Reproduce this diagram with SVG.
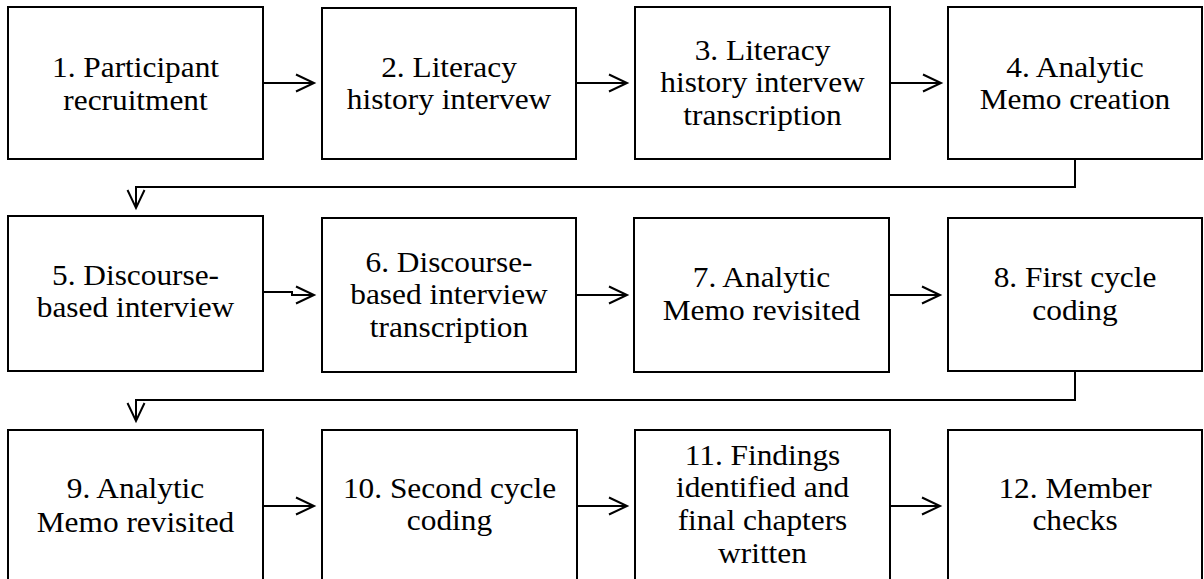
<svg xmlns="http://www.w3.org/2000/svg" width="1204" height="579" viewBox="0 0 1204 579">
<style>
.box{fill:#fff;stroke:#000;stroke-width:2}
.lbl{font-size:28.5px;fill:#000;text-anchor:middle}
.con{fill:none;stroke:#000;stroke-width:2}
</style>
<defs>
<marker id="arr" markerUnits="userSpaceOnUse" markerWidth="22" markerHeight="22" viewBox="-1 -1 22 22" refX="18" refY="9" orient="auto">
<path d="M0,0.5 L18,9 L0,17.5" fill="none" stroke="#000" stroke-width="2"/>
</marker>
</defs>
<rect width="1204" height="579" fill="#fff"/>
<g id="connectors">
<path class="con" d="M263,83 H314" marker-end="url(#arr)"/>
<path class="con" d="M576,83 H627" marker-end="url(#arr)"/>
<path class="con" d="M890,83 H941" marker-end="url(#arr)"/>
<path class="con" d="M1075,159 V187 H136 V208" marker-end="url(#arr)"/>
<path class="con" d="M263,292 H292 V295 H314" marker-end="url(#arr)"/>
<path class="con" d="M576,295 H627" marker-end="url(#arr)"/>
<path class="con" d="M889,295 H940" marker-end="url(#arr)"/>
<path class="con" d="M1075,371 V400 H136 V421" marker-end="url(#arr)"/>
<path class="con" d="M263,506 H314" marker-end="url(#arr)"/>
<path class="con" d="M577,506 H627" marker-end="url(#arr)"/>
<path class="con" d="M890,506 H940" marker-end="url(#arr)"/>
</g>
<g font-family="Liberation Serif, serif">
<g id="n1"><rect class="box" x="8" y="7" width="255" height="152"/>
<text class="lbl" transform="translate(135.5 0) scale(1.1 1)"><tspan x="0" y="77">1. Participant</tspan><tspan x="0" y="110">recruitment</tspan></text></g>
<g id="n2"><rect class="box" x="322" y="8" width="254" height="151"/>
<text class="lbl" transform="translate(449 0) scale(1.1 1)"><tspan x="0" y="77">2. Literacy</tspan><tspan x="0" y="109">history intervew</tspan></text></g>
<g id="n3"><rect class="box" x="635" y="7" width="255" height="152"/>
<text class="lbl" transform="translate(762.5 0) scale(1.1 1)"><tspan x="0" y="60">3. Literacy</tspan><tspan x="0" y="92">history intervew</tspan><tspan x="0" y="125">transcription</tspan></text></g>
<g id="n4"><rect class="box" x="948" y="7" width="254" height="152"/>
<text class="lbl" transform="translate(1075 0) scale(1.1 1)"><tspan x="0" y="77">4. Analytic</tspan><tspan x="0" y="109">Memo creation</tspan></text></g>
<g id="n5"><rect class="box" x="8" y="216" width="255" height="155"/>
<text class="lbl" transform="translate(135.5 0) scale(1.1 1)"><tspan x="0" y="285">5. Discourse-</tspan><tspan x="0" y="317">based interview</tspan></text></g>
<g id="n6"><rect class="box" x="322" y="218" width="254" height="154"/>
<text class="lbl" transform="translate(449 0) scale(1.1 1)"><tspan x="0" y="272">6. Discourse-</tspan><tspan x="0" y="304">based interview</tspan><tspan x="0" y="337">transcription</tspan></text></g>
<g id="n7"><rect class="box" x="634" y="218" width="255" height="154"/>
<text class="lbl" transform="translate(761.5 0) scale(1.1 1)"><tspan x="0" y="287">7. Analytic</tspan><tspan x="0" y="320">Memo revisited</tspan></text></g>
<g id="n8"><rect class="box" x="948" y="218" width="254" height="153"/>
<text class="lbl" transform="translate(1075 0) scale(1.1 1)"><tspan x="0" y="287">8. First cycle</tspan><tspan x="0" y="320">coding</tspan></text></g>
<g id="n9"><rect class="box" x="8" y="430" width="255" height="170"/>
<text class="lbl" transform="translate(135.5 0) scale(1.1 1)"><tspan x="0" y="498">9. Analytic</tspan><tspan x="0" y="532">Memo revisited</tspan></text></g>
<g id="n10"><rect class="box" x="322" y="430" width="255" height="170"/>
<text class="lbl" transform="translate(449.5 0) scale(1.1 1)"><tspan x="0" y="498">10. Second cycle</tspan><tspan x="0" y="530">coding</tspan></text></g>
<g id="n11"><rect class="box" x="635" y="430" width="255" height="170"/>
<text class="lbl" transform="translate(762.5 0) scale(1.1 1)"><tspan x="0" y="465">11. Findings</tspan><tspan x="0" y="497">identified and</tspan><tspan x="0" y="530">final chapters</tspan><tspan x="0" y="563">written</tspan></text></g>
<g id="n12"><rect class="box" x="948" y="430" width="254" height="170"/>
<text class="lbl" transform="translate(1075 0) scale(1.1 1)"><tspan x="0" y="498">12. Member</tspan><tspan x="0" y="530">checks</tspan></text></g>
</g>
</svg>
